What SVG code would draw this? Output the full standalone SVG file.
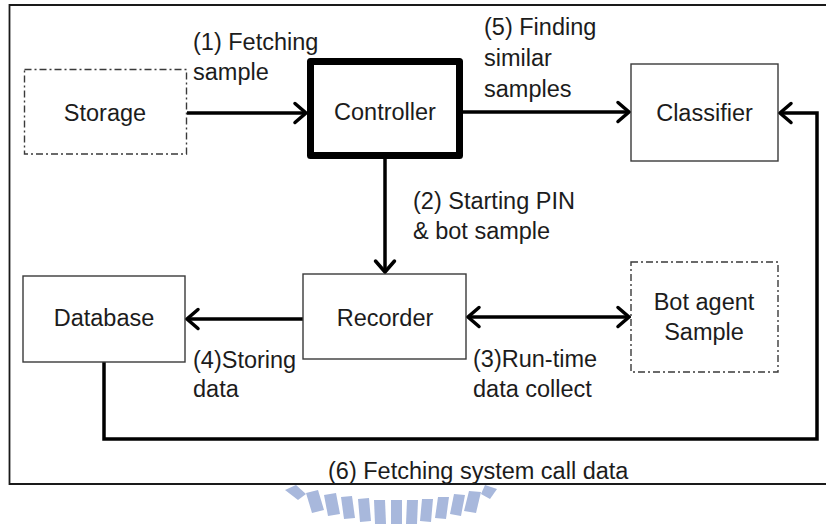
<svg xmlns="http://www.w3.org/2000/svg" width="826" height="524" viewBox="0 0 826 524">
  <defs>
    <style>
      .box { fill: #ffffff; stroke: #3a3a3a; stroke-width: 1.4; }
      .dashed { stroke-dasharray: 7 3 2 3; }
      .heavy { fill: #ffffff; stroke: #000000; stroke-width: 7; stroke-linejoin: round; }
      .label { font-family: "Liberation Sans", Arial, sans-serif; font-size: 23.5px; fill: #1c1c1c; }
      .mid { text-anchor: middle; }
      .wire { fill: none; stroke: #000000; stroke-width: 3.5; }
      .mark { fill: #a8b8dc; }
    </style>
    <marker id="arrow" markerUnits="userSpaceOnUse" viewBox="-16 -14 20 28" refX="0" refY="0" markerWidth="20" markerHeight="28" orient="auto-start-reverse">
      <path d="M -11 -9.5 L 0 0 L -11 9.5" fill="none" stroke="#000000" stroke-width="3.5" stroke-linejoin="miter" stroke-linecap="round"/>
    </marker>
  </defs>

  <!-- outer frame (open on the right side) -->
  <path d="M 830 5 H 9.5 V 484 H 830" fill="none" stroke="#1a1a1a" stroke-width="1.8"/>

  <!-- faint seal below the frame -->
  <g id="seal" class="mark">
    <polygon points="285,490 296,485 306,494 298,500"/>
    <polygon points="306,493 318,490 324,510 312,513"/>
    <polygon points="324,495 336,493 340,514 328,516"/>
    <polygon points="341,497 352,496 355,518 344,519"/>
    <polygon points="358,499 369,498 371,521 360,522"/>
    <polygon points="374,500 385,500 386,524 375,524"/>
    <polygon points="391,500 402,500 402,524 391,524"/>
    <polygon points="407,500 418,500 417,524 406,524"/>
    <polygon points="422,499 433,499 431,522 420,521"/>
    <polygon points="438,497 449,497 446,519 435,518"/>
    <polygon points="454,494 465,495 461,516 450,514"/>
    <polygon points="469,491 481,492 476,513 464,511"/>
    <polygon points="485,485 497,489 490,499 481,494"/>
  </g>

  <!-- connectors -->
  <g id="connectors">
    <line class="wire" x1="187" y1="113" x2="306" y2="113" marker-end="url(#arrow)"/>
    <line class="wire" x1="463" y1="112" x2="629" y2="112" marker-end="url(#arrow)"/>
    <line class="wire" x1="385" y1="159" x2="385" y2="272" marker-end="url(#arrow)"/>
    <line class="wire" x1="303" y1="319" x2="187" y2="319" marker-end="url(#arrow)"/>
    <line class="wire" x1="468" y1="317" x2="629" y2="317" marker-start="url(#arrow)" marker-end="url(#arrow)"/>
    <path class="wire" d="M 104 362 V 439 H 817 V 113 H 780" stroke-linejoin="miter" marker-end="url(#arrow)"/>
  </g>

  <!-- connector labels -->
  <g id="labels">
    <text class="label" x="193" y="50">(1) Fetching</text>
    <text class="label" x="193" y="80">sample</text>
    <text class="label" x="484" y="35">(5) Finding</text>
    <text class="label" x="484" y="66">similar</text>
    <text class="label" x="484" y="97">samples</text>
    <text class="label" x="413" y="209">(2) Starting PIN</text>
    <text class="label" x="413" y="239">&amp; bot sample</text>
    <text class="label" x="193" y="368">(4)Storing</text>
    <text class="label" x="193" y="397">data</text>
    <text class="label" x="473" y="367">(3)Run-time</text>
    <text class="label" x="473" y="397">data collect</text>
    <text class="label" x="328" y="479">(6) Fetching system call data</text>
  </g>

  <!-- nodes -->
  <g id="storage">
    <rect class="box dashed" x="24.5" y="69.5" width="162" height="84.5"/>
    <text class="label mid" x="105" y="121">Storage</text>
  </g>
  <g id="controller">
    <rect class="heavy" x="310.5" y="61.5" width="149" height="94"/>
    <text class="label mid" x="385" y="120">Controller</text>
  </g>
  <g id="classifier">
    <rect class="box" x="631" y="64" width="147" height="97"/>
    <text class="label mid" x="704.5" y="121">Classifier</text>
  </g>
  <g id="database">
    <rect class="box" x="23" y="276" width="162" height="86"/>
    <text class="label mid" x="104" y="326">Database</text>
  </g>
  <g id="recorder">
    <rect class="box" x="303" y="274" width="163" height="85"/>
    <text class="label mid" x="385" y="326">Recorder</text>
  </g>
  <g id="bot-agent">
    <rect class="box dashed" x="631" y="262" width="147" height="110"/>
    <text class="label mid" x="704" y="310">Bot agent</text>
    <text class="label mid" x="704" y="340">Sample</text>
  </g>
</svg>
